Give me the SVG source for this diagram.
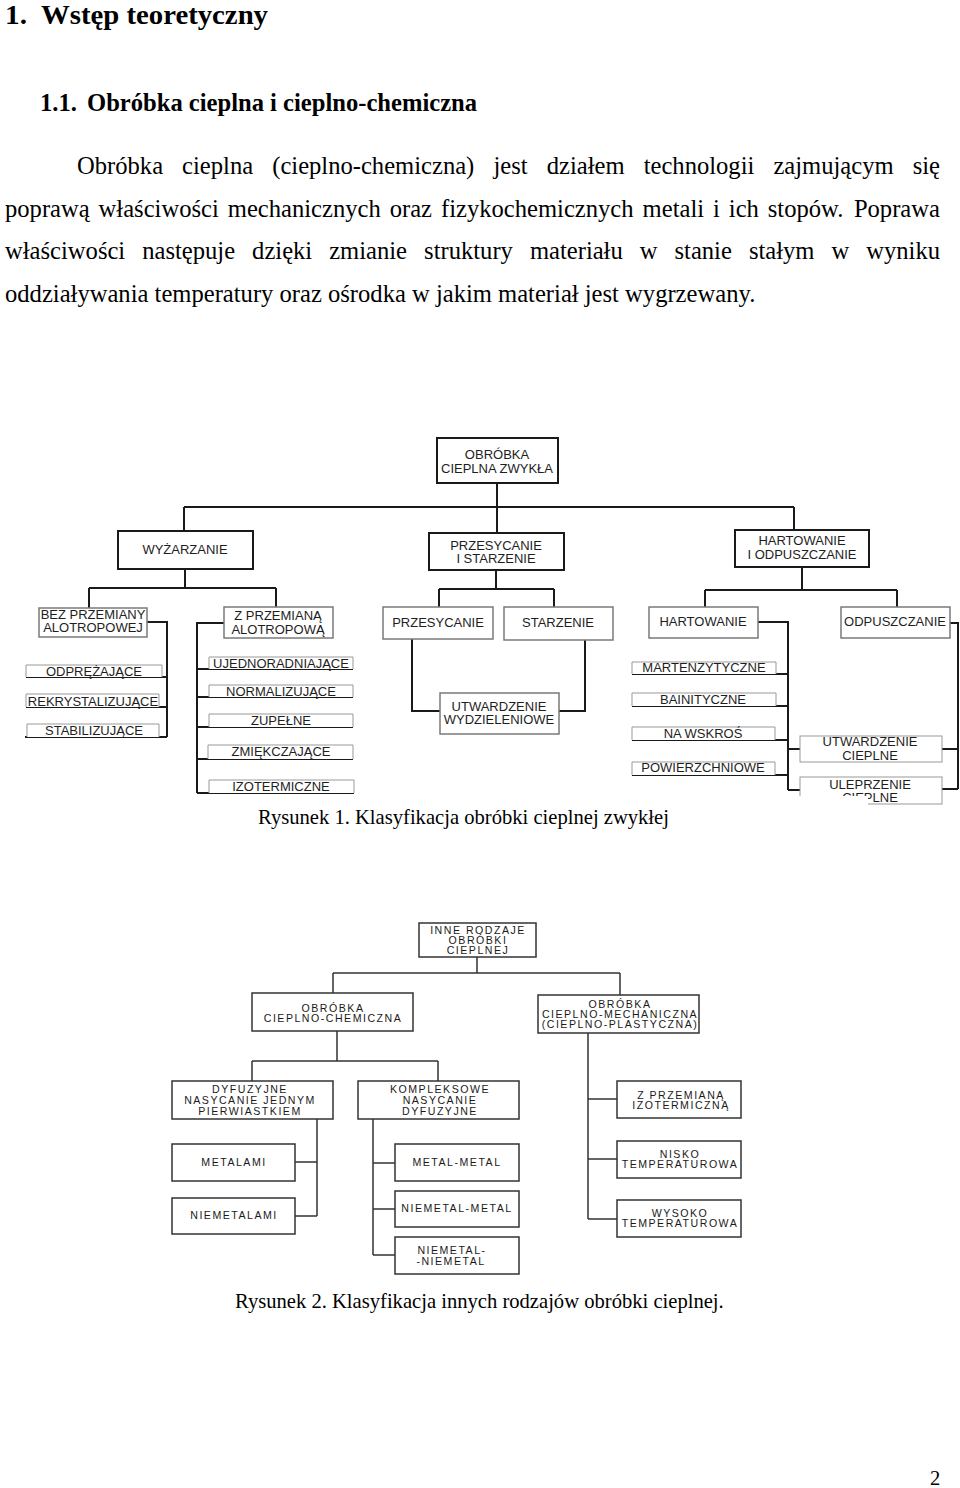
<svg xmlns="http://www.w3.org/2000/svg" width="960" height="1488" viewBox="0 0 960 1488">
<style>
.t{font-family:"Liberation Serif","Times New Roman",serif;fill:#000}
.h{font-weight:bold}
.p{font-size:24.6px}
.cap{font-size:20.6px}
.d{font-family:"Liberation Sans",Arial,sans-serif;font-size:13px;fill:#1e1e1e;text-anchor:middle}
.d2{font-family:"Liberation Sans",Arial,sans-serif;font-size:10.6px;letter-spacing:1.5px;fill:#1a1a1a;text-anchor:middle}
.bm{fill:#fff;stroke:#1a1a1a;stroke-width:2}
.bs{fill:#fff;stroke:#7a7a7a;stroke-width:1.5}
.bl{fill:#fff;stroke:#999;stroke-width:1}
.b2{fill:#fff;stroke:#333;stroke-width:1.5}
.c{fill:none;stroke:#1a1a1a;stroke-width:2}
.c2{fill:none;stroke:#333;stroke-width:1.5}
</style>
<rect width="960" height="1488" fill="#fff"/>

<g id="body-text">
<text class="t h" x="5" y="24" font-size="26.5" textLength="22" lengthAdjust="spacingAndGlyphs">1.</text>
<text class="t h" x="41" y="24" font-size="26.5" textLength="227" lengthAdjust="spacingAndGlyphs">Wstęp teoretyczny</text>
<text class="t h" x="40" y="111" font-size="24.6">1.1.</text>
<text class="t h" x="87" y="111" font-size="24.6">Obróbka cieplna i cieplno-chemiczna</text>
<text class="t p" y="174"><tspan x="77">Obróbka</tspan><tspan x="182.1">cieplna</tspan><tspan x="272.2">(cieplno-chemiczna)</tspan><tspan x="493.5">jest</tspan><tspan x="546.7">działem</tspan><tspan x="643.7">technologii</tspan><tspan x="773.4">zajmującym</tspan><tspan x="912.7">się</tspan></text>
<text class="t p" y="217"><tspan x="5">poprawą</tspan><tspan x="98.6">właściwości</tspan><tspan x="227.8">mechanicznych</tspan><tspan x="389.7">oraz</tspan><tspan x="441">fizykochemicznych</tspan><tspan x="642.6">metali</tspan><tspan x="713">i</tspan><tspan x="728.8">ich</tspan><tspan x="767.8">stopów.</tspan><tspan x="853.9">Poprawa</tspan></text>
<text class="t p" y="259"><tspan x="5">właściwości</tspan><tspan x="142.2">następuje</tspan><tspan x="252.1">dzięki</tspan><tspan x="329.2">zmianie</tspan><tspan x="424.1">struktury</tspan><tspan x="529.9">materiału</tspan><tspan x="639.8">w</tspan><tspan x="674.5">stanie</tspan><tspan x="748.9">stałym</tspan><tspan x="831.5">w</tspan><tspan x="866.2">wyniku</tspan></text>
<text class="t p" x="5" y="302">oddziaływania temperatury oraz ośrodka w jakim materiał jest wygrzewany.</text>
<text class="t cap" x="258" y="824">Rysunek 1. Klasyfikacja obróbki cieplnej zwykłej</text>
<text class="t cap" x="235" y="1308">Rysunek 2. Klasyfikacja innych rodzajów obróbki cieplnej.</text>
<text class="t" x="930" y="1485" font-size="20.6">2</text>
</g>

<g id="connectors-fig1" class="c">
<path d="M497 483V533M184 507H794M184 507V531M794 507V530"/>
<path d="M185 569V588M89 588H276M89 588V608M276 588V607"/>
<path d="M147 622H167V737M26 677H167M26 707H167M25 737H167"/>
<path d="M224 623H197V793M197 669H353M197 697H353M197 727H353M197 759H353M197 793H354"/>
<path d="M496 570V589M439 589H554M439 589V607M554 589V607"/>
<path d="M412 639V711H440M585 640V711H559"/>
<path d="M802 567V590M705 590H897M705 590V607M897 590V607"/>
<path d="M758 622H788V790M632 674H788M632 706H788M632 740H788M632 775H788M788 749H800M788 790H800"/>
<path d="M950 623H958V789M942 749H958M942 789H958"/>
</g>

<g id="n-root"><rect class="bm" x="437" y="438" width="121" height="45"/><text class="d" x="497" y="459">OBRÓBKA</text><text class="d" x="497" y="473">CIEPLNA ZWYKŁA</text></g>
<g id="n-wyzarzanie"><rect class="bm" x="118" y="531" width="135" height="38"/><text class="d" x="185" y="554">WYŻARZANIE</text></g>
<g id="n-przesycanie-starzenie"><rect class="bm" x="429" y="533" width="135" height="37"/><text class="d" x="496" y="549.5">PRZESYCANIE</text><text class="d" x="496" y="563">I STARZENIE</text></g>
<g id="n-hartowanie-odpuszczanie"><rect class="bm" x="735" y="530" width="134" height="37"/><text class="d" x="802" y="545">HARTOWANIE</text><text class="d" x="802" y="559">I ODPUSZCZANIE</text></g>
<g id="n-bez"><rect class="bs" x="39" y="608" width="108" height="29"/><text class="d" x="93" y="618.5">BEZ PRZEMIANY</text><text class="d" x="93" y="632">ALOTROPOWEJ</text></g>
<g id="n-z-przemiana"><rect class="bs" x="224" y="607" width="109" height="31"/><text class="d" x="278" y="620">Z PRZEMIANĄ</text><text class="d" x="278" y="634">ALOTROPOWĄ</text></g>
<g id="n-przesycanie"><rect class="bs" x="383" y="607" width="110" height="32"/><text class="d" x="438" y="627">PRZESYCANIE</text></g>
<g id="n-starzenie"><rect class="bs" x="504" y="607" width="109" height="33"/><text class="d" x="558" y="627">STARZENIE</text></g>
<g id="n-hartowanie"><rect class="bs" x="649" y="607" width="109" height="31"/><text class="d" x="703" y="626">HARTOWANIE</text></g>
<g id="n-odpuszczanie"><rect class="bs" x="841" y="607" width="109" height="31"/><text class="d" x="895" y="626">ODPUSZCZANIE</text></g>
<g id="n-utwardzenie-wydz"><rect class="bs" x="440" y="693" width="119" height="41"/><text class="d" x="499" y="711">UTWARDZENIE</text><text class="d" x="499" y="724">WYDZIELENIOWE</text></g>

<g id="n-odprezajace"><path class="bl" d="M26 677V665H162V677"/><text class="d" x="94" y="676">ODPRĘŻAJĄCE</text></g>
<g id="n-rekrystalizujace"><path class="bl" d="M26 707V694H159V707"/><text class="d" x="93" y="706">REKRYSTALIZUJĄCE</text></g>
<g id="n-stabilizujace"><path class="bl" d="M27 737V724H159V737"/><text class="d" x="94" y="735">STABILIZUJĄCE</text></g>
<g id="n-ujednoradniajace"><path class="bl" d="M209 669V657H353V669"/><text class="d" x="281" y="668">UJEDNORADNIAJĄCE</text></g>
<g id="n-normalizujace"><path class="bl" d="M209 697V685H353V697"/><text class="d" x="281" y="696">NORMALIZUJĄCE</text></g>
<g id="n-zupelne"><path class="bl" d="M209 727V714H353V727"/><text class="d" x="281" y="725">ZUPEŁNE</text></g>
<g id="n-zmiekczajace"><path class="bl" d="M208 759V745H353V759"/><text class="d" x="281" y="756">ZMIĘKCZAJĄCE</text></g>
<g id="n-izotermiczne"><path class="bl" d="M209 793V780H354V793"/><text class="d" x="281" y="791">IZOTERMICZNE</text></g>
<g id="n-martenzytyczne"><path class="bl" d="M632 674V662H776V674"/><text class="d" x="704" y="672">MARTENZYTYCZNE</text></g>
<g id="n-bainityczne"><path class="bl" d="M632 706V693H776V706"/><text class="d" x="703" y="704">BAINITYCZNE</text></g>
<g id="n-na-wskros"><path class="bl" d="M632 740V727H775V740"/><text class="d" x="703" y="738">NA WSKROŚ</text></g>
<g id="n-powierzchniowe"><path class="bl" d="M632 775V762H775V775"/><text class="d" x="703" y="772">POWIERZCHNIOWE</text></g>
<g id="n-utwardzenie-cieplne"><rect class="bl" x="800" y="736" width="142" height="26"/><text class="d" x="870" y="746">UTWARDZENIE</text><text class="d" x="870" y="760">CIEPLNE</text></g>
<g id="n-ulepszenie-cieplne"><rect class="bl" x="800" y="777" width="142" height="27"/><text class="d" x="870" y="789">ULEPRZENIE</text><text class="d" x="870" y="801.5">CIEPLNE</text><rect x="798" y="796" width="70" height="10" fill="#fff"/></g>

<g id="connectors-fig2" class="c2">
<path d="M477 957V973M333 973H620M333 973V993M620 973V995"/>
<path d="M337 1031V1061M252 1061H438M252 1061V1081M438 1061V1081"/>
<path d="M317 1119V1216M295 1162H317M295 1216H317"/>
<path d="M373 1119V1255M373 1163H395M373 1209H395M373 1255H395"/>
<path d="M588 1033V1219M588 1099H617M588 1159H617M588 1219H617"/>
</g>

<g id="f2-root"><rect class="b2" x="419" y="923" width="117" height="34"/><text class="d2" x="478" y="934">INNE RODZAJE</text><text class="d2" x="478" y="944">OBRÓBKI</text><text class="d2" x="478" y="954">CIEPLNEJ</text></g>
<g id="f2-chemiczna"><rect class="b2" x="252" y="993" width="161" height="38"/><text class="d2" x="333" y="1012">OBRÓBKA</text><text class="d2" x="333" y="1022">CIEPLNO-CHEMICZNA</text></g>
<g id="f2-mechaniczna"><rect class="b2" x="538" y="995" width="161" height="38"/><text class="d2" x="620" y="1008">OBRÓBKA</text><text class="d2" x="620" y="1018">CIEPLNO-MECHANICZNA</text><text class="d2" x="620" y="1028">(CIEPLNO-PLASTYCZNA)</text></g>
<g id="f2-dyfuzyjne"><rect class="b2" x="172" y="1081" width="161" height="38"/><text class="d2" x="250" y="1093">DYFUZYJNE</text><text class="d2" x="250" y="1104">NASYCANIE JEDNYM</text><text class="d2" x="250" y="1115">PIERWIASTKIEM</text></g>
<g id="f2-kompleksowe"><rect class="b2" x="358" y="1081" width="161" height="38"/><text class="d2" x="440" y="1093">KOMPLEKSOWE</text><text class="d2" x="440" y="1104">NASYCANIE</text><text class="d2" x="440" y="1115">DYFUZYJNE</text></g>
<g id="f2-metalami"><rect class="b2" x="172" y="1144" width="123" height="37"/><text class="d2" x="234" y="1166">METALAMI</text></g>
<g id="f2-niemetalami"><rect class="b2" x="172" y="1198" width="123" height="36"/><text class="d2" x="234" y="1219">NIEMETALAMI</text></g>
<g id="f2-metal-metal"><rect class="b2" x="395" y="1144" width="124" height="37"/><text class="d2" x="457" y="1166">METAL-METAL</text></g>
<g id="f2-niemetal-metal"><rect class="b2" x="395" y="1191" width="124" height="36"/><text class="d2" x="457" y="1212">NIEMETAL-METAL</text></g>
<g id="f2-niemetal-niemetal"><rect class="b2" x="395" y="1237" width="124" height="37"/><text class="d2" x="452" y="1254">NIEMETAL-</text><text class="d2" x="451" y="1265">-NIEMETAL</text></g>
<g id="f2-z-przemiana"><rect class="b2" x="617" y="1081" width="124" height="37"/><text class="d2" x="681" y="1099">Z PRZEMIANĄ</text><text class="d2" x="681" y="1109">IZOTERMICZNĄ</text></g>
<g id="f2-nisko"><rect class="b2" x="617" y="1141" width="124" height="37"/><text class="d2" x="680" y="1158">NISKO</text><text class="d2" x="680" y="1168">TEMPERATUROWA</text></g>
<g id="f2-wysoko"><rect class="b2" x="617" y="1200" width="124" height="37"/><text class="d2" x="680" y="1217">WYSOKO</text><text class="d2" x="680" y="1227">TEMPERATUROWA</text></g>
</svg>
